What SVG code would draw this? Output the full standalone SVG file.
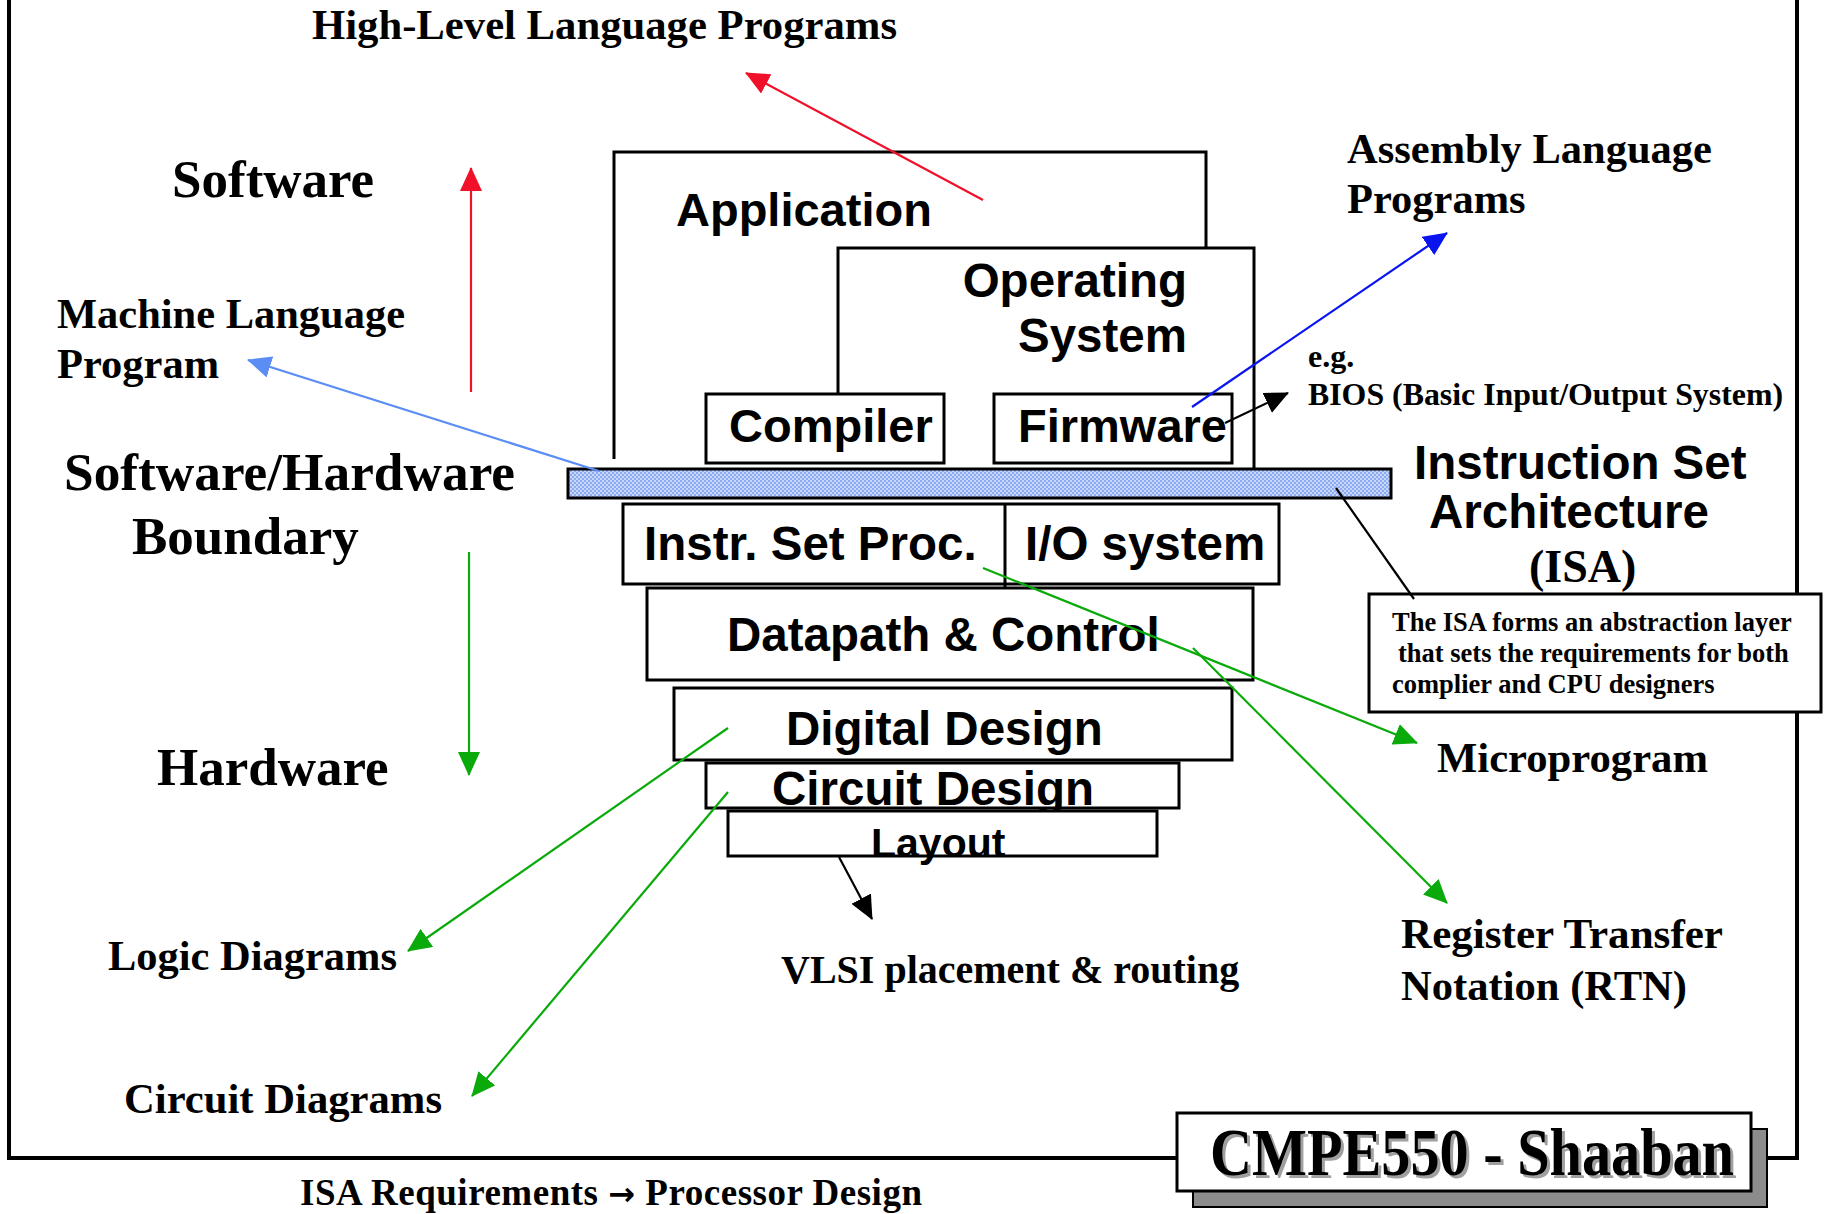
<svg xmlns="http://www.w3.org/2000/svg" width="1824" height="1214" viewBox="0 0 1824 1214">
<style>
.t{font-family:"Liberation Serif","Times New Roman",serif;font-weight:bold;fill:#000}
.a{font-family:"Liberation Sans",Arial,sans-serif;font-weight:bold;fill:#000}
.box{fill:#fff;stroke:#000;stroke-width:3}
.ln{fill:none;stroke:#000;stroke-width:3}
.c{fill:none;stroke-width:2.2}
</style>
<defs>
<pattern id="hatch" width="4" height="4" patternUnits="userSpaceOnUse">
<rect width="4" height="4" fill="#c6d6f8"/>
<rect width="2" height="2" fill="#8eaaf0"/>
<rect x="2" y="2" width="2" height="2" fill="#8eaaf0"/>
</pattern>
<marker id="mr" markerUnits="userSpaceOnUse" viewBox="0 0 24 22" markerWidth="24" markerHeight="22" refX="23" refY="11" orient="auto"><path d="M0,0 L24,11 L0,22 z" fill="#f0102a"/></marker>
<marker id="mb" markerUnits="userSpaceOnUse" viewBox="0 0 24 22" markerWidth="24" markerHeight="22" refX="23" refY="11" orient="auto"><path d="M0,0 L24,11 L0,22 z" fill="#0a14f0"/></marker>
<marker id="ml" markerUnits="userSpaceOnUse" viewBox="0 0 24 22" markerWidth="24" markerHeight="22" refX="23" refY="11" orient="auto"><path d="M0,0 L24,11 L0,22 z" fill="#5b8df5"/></marker>
<marker id="mg" markerUnits="userSpaceOnUse" viewBox="0 0 24 22" markerWidth="24" markerHeight="22" refX="23" refY="11" orient="auto"><path d="M0,0 L24,11 L0,22 z" fill="#0aaa0a"/></marker>
<marker id="mk" markerUnits="userSpaceOnUse" viewBox="0 0 24 22" markerWidth="24" markerHeight="22" refX="23" refY="11" orient="auto"><path d="M0,0 L24,11 L0,22 z" fill="#000"/></marker>
</defs>
<rect width="1824" height="1214" fill="#fff"/>
<g id="frame">
<rect x="9" y="-20" width="1788" height="1178" fill="none" stroke="#000" stroke-width="4"/>
</g>
<g id="labels-left">
<text class="t" x="312" y="39" font-size="42.5" textLength="585" lengthAdjust="spacingAndGlyphs">High-Level Language Programs</text>
<text class="t" x="172" y="197" font-size="53">Software</text>
<text class="t" x="57" y="328" font-size="42.5" textLength="348" lengthAdjust="spacingAndGlyphs">Machine Language</text>
<text class="t" x="57" y="378" font-size="42.5">Program</text>
<text class="t" x="64" y="490" font-size="53" textLength="451" lengthAdjust="spacingAndGlyphs">Software/Hardware</text>
<text class="t" x="132" y="554" font-size="53">Boundary</text>
<text class="t" x="157" y="785" font-size="53">Hardware</text>
<text class="t" x="108" y="970" font-size="42.5" textLength="289" lengthAdjust="spacingAndGlyphs">Logic Diagrams</text>
<text class="t" x="124" y="1113" font-size="42.5" textLength="318" lengthAdjust="spacingAndGlyphs">Circuit Diagrams</text>
<text class="t" x="781" y="983" font-size="40">VLSI placement &amp; routing</text>
</g>
<g id="application">
<polyline class="ln" points="614,459 614,152 1206,152 1206,248"/>
<text class="a" x="676" y="226" font-size="47">Application</text>
</g>
<g id="operating-system">
<polyline class="ln" points="838,393 838,248 1254,248 1254,469"/>
<text class="a" x="1187" y="297" font-size="47.5" text-anchor="end">Operating</text>
<text class="a" x="1187" y="352" font-size="47.5" text-anchor="end">System</text>
</g>
<g id="compiler">
<rect class="box" x="706" y="394" width="238" height="69"/>
<text class="a" x="729" y="442" font-size="47">Compiler</text>
</g>
<g id="firmware">
<rect class="box" x="994" y="394" width="238" height="69"/>
<text class="a" x="1018" y="442" font-size="47">Firmware</text>
</g>
<g id="isa-bar">
<rect x="568" y="469" width="823" height="29" fill="url(#hatch)" stroke="#000" stroke-width="3"/>
</g>
<g id="isp-io">
<rect class="box" x="623" y="504" width="656" height="80"/>
<line class="ln" x1="1005" y1="504" x2="1005" y2="588"/>
<text class="a" x="644" y="560" font-size="47.5">Instr. Set Proc.</text>
<text class="a" x="1025" y="560" font-size="47.5">I/O system</text>
</g>
<g id="datapath">
<rect class="box" x="647" y="588" width="606" height="92"/>
<text class="a" x="727" y="651" font-size="47.5">Datapath &amp; Control</text>
</g>
<g id="digital-design">
<rect class="box" x="674" y="688" width="558" height="72"/>
<text class="a" x="786" y="745" font-size="47.5">Digital Design</text>
</g>
<g id="circuit-design">
<rect class="box" x="706" y="763" width="473" height="45"/>
<text class="a" x="772" y="805" font-size="47.5">Circuit Design</text>
</g>
<g id="layout">
<rect class="box" x="728" y="811" width="429" height="45"/>
<text class="a" x="871" y="857" font-size="41">Layout</text>
</g>
<g id="labels-right">
<text class="t" x="1347" y="163" font-size="42.5" textLength="365" lengthAdjust="spacingAndGlyphs">Assembly Language</text>
<text class="t" x="1347" y="213" font-size="42.5">Programs</text>
<text class="t" x="1308" y="367" font-size="32">e.g.</text>
<text class="t" x="1308" y="405" font-size="32" textLength="475" lengthAdjust="spacingAndGlyphs">BIOS (Basic Input/Output System)</text>
<text class="a" x="1414" y="479" font-size="47.5">Instruction Set</text>
<text class="a" x="1429" y="528" font-size="47.5">Architecture</text>
<text class="t" x="1529" y="582" font-size="46">(ISA)</text>
<text class="t" x="1437" y="772" font-size="42.5" textLength="271" lengthAdjust="spacingAndGlyphs">Microprogram</text>
<text class="t" x="1401" y="948" font-size="42.5" textLength="322" lengthAdjust="spacingAndGlyphs">Register Transfer</text>
<text class="t" x="1401" y="1000" font-size="42.5" textLength="286" lengthAdjust="spacingAndGlyphs">Notation (RTN)</text>
</g>
<g id="isa-note">
<rect class="box" x="1369" y="594" width="452" height="118"/>
<text class="t" x="1392" y="631" font-size="26.5">The ISA forms an abstraction layer</text>
<text class="t" x="1398" y="662" font-size="26.5">that sets the requirements for both</text>
<text class="t" x="1392" y="693" font-size="26.5">complier and CPU designers</text>
</g>
<g id="connectors">
<line class="c" stroke="#f0102a" x1="983" y1="200" x2="746" y2="73" marker-end="url(#mr)"/>
<line class="c" stroke="#f0102a" x1="471" y1="392" x2="471" y2="168" marker-end="url(#mr)"/>
<line class="c" stroke="#0aaa0a" x1="469" y1="552" x2="469" y2="775" marker-end="url(#mg)"/>
<line class="c" stroke="#5b8df5" x1="599" y1="471" x2="248" y2="360" marker-end="url(#ml)"/>
<line class="c" stroke="#0a14f0" x1="1192" y1="407" x2="1447" y2="233" marker-end="url(#mb)"/>
<line class="c" stroke="#000" x1="1225" y1="423" x2="1288" y2="393" marker-end="url(#mk)"/>
<line class="c" stroke="#000" x1="1336" y1="488" x2="1414" y2="599"/>
<line class="c" stroke="#0aaa0a" x1="983" y1="568" x2="1417" y2="743" marker-end="url(#mg)"/>
<line class="c" stroke="#0aaa0a" x1="1193" y1="648" x2="1447" y2="903" marker-end="url(#mg)"/>
<line class="c" stroke="#0aaa0a" x1="728" y1="728" x2="408" y2="951" marker-end="url(#mg)"/>
<line class="c" stroke="#0aaa0a" x1="728" y1="792" x2="472" y2="1096" marker-end="url(#mg)"/>
<line class="c" stroke="#000" x1="839" y1="857" x2="872" y2="919" marker-end="url(#mk)"/>
</g>
<g id="title-box">
<rect x="1193" y="1129" width="574" height="78" fill="#8c8c8c" stroke="#000" stroke-width="2"/>
<rect x="1177" y="1113" width="574" height="78" fill="#fff" stroke="#000" stroke-width="3"/>
<text class="t" x="1213" y="1178" font-size="68" textLength="524" lengthAdjust="spacingAndGlyphs" style="fill:#a0a0a0">CMPE550 - Shaaban</text>
<text class="t" x="1210" y="1175" font-size="68" textLength="524" lengthAdjust="spacingAndGlyphs">CMPE550 - Shaaban</text>
</g>
<g id="footer">
<text class="t" x="300" y="1205" font-size="37" textLength="622" lengthAdjust="spacing">ISA Requirements <tspan font-family="DejaVu Sans, sans-serif" font-size="32">→</tspan> Processor Design</text>
</g>
</svg>
